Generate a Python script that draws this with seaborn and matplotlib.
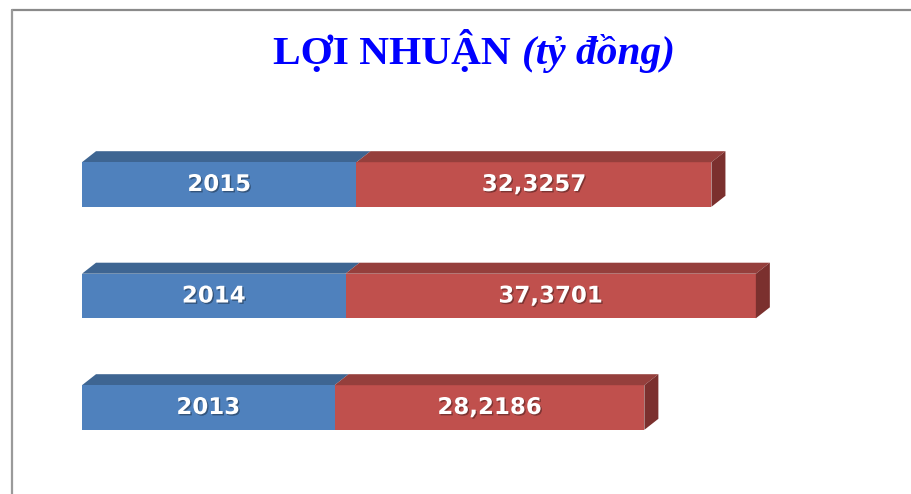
import matplotlib
matplotlib.use("Agg")
import matplotlib.pyplot as plt
import matplotlib.patheffects as pe
from matplotlib.patches import Polygon
from matplotlib.lines import Line2D
import seaborn as sns
import pandas as pd

# ---- data ----
years = ["2015", "2014", "2013"]
base_vals = [25, 24, 23]                 # blue (year) segment length
profit = [32.3257, 37.3701, 28.2186]     # red (profit) segment length
profit_labels = ["32,3257", "37,3701", "28,2186"]
title_main = "LỢI NHUẬN "
title_unit = "(tỷ đồng)"

BLUE, BLUE_TOP = "#4F81BD", "#3E6592"
RED, RED_TOP, RED_SIDE = "#C0504D", "#953F3C", "#7B302E"

sns.set_theme(style="white")
W, H, DPI = 912, 494, 100
fig = plt.figure(figsize=(W / DPI, H / DPI), dpi=DPI)
fig.patch.set_facecolor("white")

ax_l, ax_r, ax_t, ax_b = 82, 850.6, 128.75, 463.25
ax = fig.add_axes([ax_l / W, (H - ax_b) / H, (ax_r - ax_l) / W, (ax_b - ax_t) / H])

df = pd.DataFrame({"year": years, "base": base_vals, "profit": profit})
df["total"] = df["base"] + df["profit"]

sns.barplot(data=df, x="total", y="year", order=years, color=RED, saturation=1,
            width=0.4, orient="h", ax=ax, linewidth=0)
sns.barplot(data=df, x="base", y="year", order=years, color=BLUE, saturation=1,
            width=0.4, orient="h", ax=ax, linewidth=0)

XMAX = 70
ax.set_xlim(0, XMAX)
ax.set_ylim(2.5, -0.5)
ax.axis("off")

# 3D depth in data units (derived from pixel offsets)
px_x = (ax_r - ax_l) / XMAX
px_y = (ax_b - ax_t) / 3
dx = 14 / px_x
dy = 11 / px_y

red_bars = ax.containers[0]
blue_bars = ax.containers[1]
for rb, bb in zip(red_bars.patches, blue_bars.patches):
    x0 = bb.get_x()
    xb = bb.get_x() + bb.get_width()
    xe = rb.get_x() + rb.get_width()
    ytop = min(rb.get_y(), rb.get_y() + rb.get_height())
    ybot = max(rb.get_y(), rb.get_y() + rb.get_height())
    ax.add_patch(Polygon([(x0, ytop), (xb, ytop), (xb + dx, ytop - dy), (x0 + dx, ytop - dy)],
                         closed=True, facecolor=BLUE_TOP, edgecolor="none", clip_on=False))
    ax.add_patch(Polygon([(xb, ytop), (xe, ytop), (xe + dx, ytop - dy), (xb + dx, ytop - dy)],
                         closed=True, facecolor=RED_TOP, edgecolor="none", clip_on=False))
    ax.add_patch(Polygon([(xe, ytop), (xe + dx, ytop - dy), (xe + dx, ybot - dy), (xe, ybot)],
                         closed=True, facecolor=RED_SIDE, edgecolor="none", clip_on=False))
    rb.set_zorder(1)
    bb.set_zorder(2)

shadow = [pe.withSimplePatchShadow(offset=(1, -1), shadow_rgbFace="black", alpha=0.35)]
lbl_kw = dict(label_type="center", color="white", fontsize=16.5, fontweight="bold",
              fontfamily="DejaVu Sans", path_effects=shadow)
ax.bar_label(blue_bars, labels=years, **lbl_kw)
for rb, bb, lab in zip(red_bars.patches, blue_bars.patches, profit_labels):
    xc = (bb.get_x() + bb.get_width() + rb.get_x() + rb.get_width()) / 2
    yc = rb.get_y() + rb.get_height() / 2
    ax.text(xc, yc, lab, ha="center", va="center", color="white", fontsize=16.5,
            fontweight="bold", fontfamily="DejaVu Sans", path_effects=shadow, zorder=5)

# ---- title with mixed styles ----
fam = ["Liberation Serif", "DejaVu Serif"]
baseline = (H - 64) / H
t1 = fig.text(0, baseline, title_main, color="#0000FF", fontsize=29.8, fontweight="bold",
              family=fam, ha="left", va="baseline")
t2 = fig.text(0, baseline, title_unit, color="#0000FF", fontsize=29.8, fontweight="bold",
              style="italic", family=fam, ha="left", va="baseline")
renderer = fig.canvas.get_renderer()
w1 = t1.get_window_extent(renderer).width
w2 = t2.get_window_extent(renderer).width
start = 474 - (w1 + w2) / 2
t1.set_x(start / W)
t2.set_x((start + w1) / W)

# ---- frame lines (top and left) ----
fig.add_artist(Line2D([12 / W, 1], [(H - 10) / H] * 2, color="#8A8A8A", lw=1.6))
fig.add_artist(Line2D([12 / W] * 2, [0, (H - 10) / H], color="#9A9A9A", lw=1.6))

fig.savefig("out.png", dpi=DPI, facecolor="white")
